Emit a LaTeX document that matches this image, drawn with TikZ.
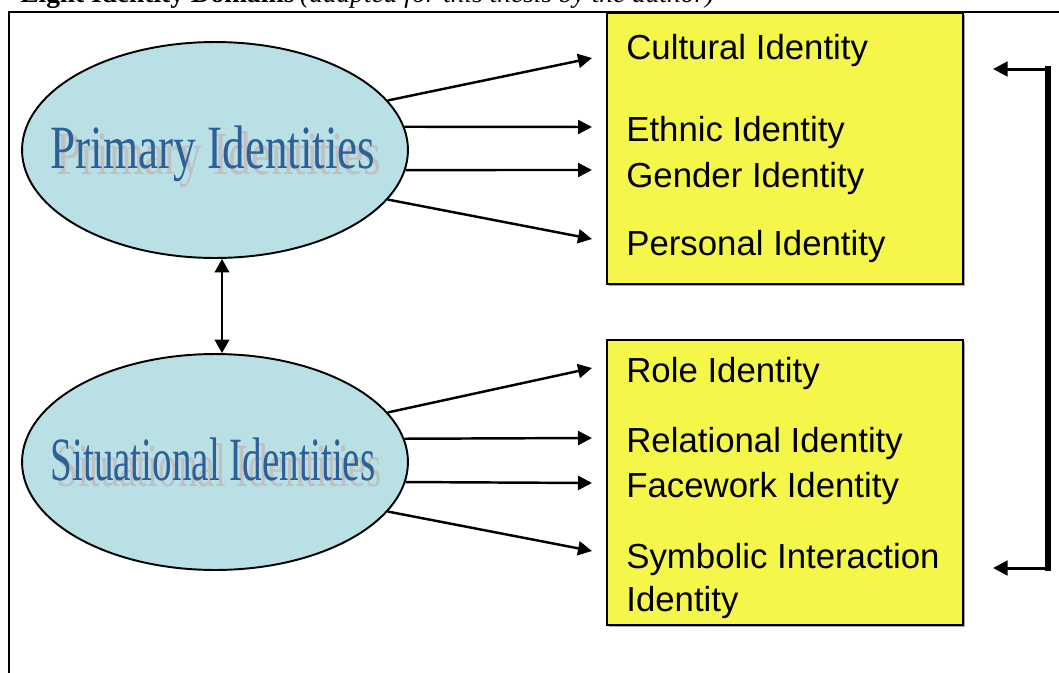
\documentclass[tikz,border=0pt]{standalone}
\usepackage{graphicx}
\usepackage{fontspec}
\setmainfont{Liberation Serif}
\newfontfamily\boxfont{Liberation Sans}
\usetikzlibrary{arrows.meta,shapes.geometric,shadows}
\definecolor{ovalblue}{RGB}{185,224,228}
\definecolor{boxyellow}{RGB}{244,247,73}
\definecolor{wordblue}{RGB}{46,96,152}
\definecolor{wordgray}{RGB}{192,192,192}
\newcommand{\wordart}[1]{\resizebox{6.5cm}{\height}{#1}}
\tikzset{
  oval/.style={ellipse,draw=black,line width=1.1pt,fill=ovalblue,minimum width=7.72cm,minimum height=4.32cm,inner sep=0pt},
  wordfront/.style={anchor=base,inner sep=0pt,text=wordblue,font=\fontsize{35}{42}\selectfont},
  wordback/.style={wordfront,text=wordgray},
  idbox/.style={rectangle,draw=black,line width=0.8pt,fill=boxyellow,minimum width=7.12cm,inner sep=0pt,
    drop shadow={shadow xshift=0.035cm,shadow yshift=-0.035cm,fill=gray!70,opacity=1}},
  idtext/.style={anchor=base west,inner sep=0pt,font=\boxfont\fontsize{19.8}{24}\selectfont},
  outarrow/.style={line width=1.4pt,-{Triangle[length=0.28cm,width=0.28cm]}},
  dblarrow/.style={line width=1.4pt,{Triangle[length=0.27cm,width=0.29cm]}-{Triangle[length=0.27cm,width=0.29cm]}},
  armarrow/.style={line width=0.06cm,-{Triangle[length=0.29cm,width=0.29cm]}}
}
\begin{document}
\begin{tikzpicture}[x=0.02cm,y=-0.02cm]
\useasboundingbox (0,0) rectangle (1059,673);
\clip (0,0) rectangle (1059,673);
% title, cut at the top
\node[anchor=base west,inner sep=0pt,font=\fontsize{15.6}{18}\selectfont\bfseries] (title) at (20,2) {Eight Identity Domains};
\node[anchor=base west,inner sep=0pt,font=\fontsize{15.6}{18}\selectfont\itshape] (subtitle) at ([xshift=0.1cm]title.base east) {(adapted for this thesis by the author)};
\draw[line width=1.1pt] (9,12) rectangle (1080,700);
% ovals
\node[oval] (prim) at (215,150) {};
\node[wordback] (primback) at (219,174) {\wordart{Primary Identities}};
\node[wordfront] (primtext) at (213,168) {\wordart{Primary Identities}};
\node[oval] (sit) at (215,462) {};
\node[wordback] (sitback) at (219,486) {\wordart{Situational Identities}};
\node[wordfront] (sittext) at (213,480) {\wordart{Situational Identities}};
\draw[dblarrow] ([xshift=0.14cm]prim.south) -- ([xshift=0.14cm]sit.north);
% boxes
\node[idbox,minimum height=5.42cm] (primbox) at (785,148.5) {};
\node[idbox,minimum height=5.7cm] (sitbox) at (785,482.5) {};
\node[idtext] (cultural) at (626,59) {Cultural Identity};
\node[idtext] (ethnic) at (626,141) {Ethnic Identity};
\node[idtext] (gender) at (626,187) {Gender Identity};
\node[idtext] (personal) at (626,255) {Personal Identity};
\node[idtext] (role) at (626,382) {Role Identity};
\node[idtext] (relational) at (626,452) {Relational Identity};
\node[idtext] (facework) at (626,497) {Facework Identity};
\node[idtext] (symbolic) at (626,568) {Symbolic Interaction};
\node[idtext] (symbolic2) at (626,611) {Identity};
% arrow tips
\coordinate (p1) at (592,58);
\coordinate (p2) at (592,127);
\coordinate (p3) at (592,170);
\coordinate (p4) at (592,239);
\coordinate (s1) at (592,368);
\coordinate (s2) at (592,438);
\coordinate (s3) at (592,483);
\coordinate (s4) at (592,551);
\draw[outarrow] (prim.16) -- (p1);
\draw[outarrow] (prim.7) -- (p2);
\draw[outarrow] (prim.-6) -- (p3);
\draw[outarrow] (prim.-16) -- (p4);
\draw[outarrow] (sit.16) -- (s1);
\draw[outarrow] (sit.7) -- (s2);
\draw[outarrow] (sit.-6) -- (s3);
\draw[outarrow] (sit.-16) -- (s4);
% bracket
\coordinate (bartop) at (1048,69);
\coordinate (barbot) at (1048,568);
\coordinate (tiptop) at (993,69);
\coordinate (tipbot) at (993,568);
\draw[line width=0.13cm,line cap=rect] (bartop) -- (barbot);
\draw[armarrow] (bartop) -- (tiptop);
\draw[armarrow] (barbot) -- (tipbot);
\end{tikzpicture}
\end{document}
